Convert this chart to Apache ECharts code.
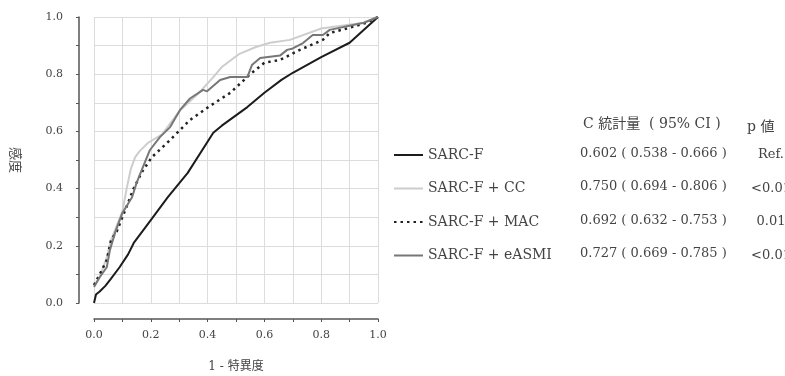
<!DOCTYPE html>
<html>
<head>
<meta charset="utf-8">
<script src="https://cdn.jsdelivr.net/npm/echarts@6/dist/echarts.min.js"></script>
<style>
  html, body { margin: 0; padding: 0; background: #fff; }
  #myCharts { width: 785px; height: 376px; }
</style>
</head>
<body>
<div id="myCharts"></div>
<script>
// ROC curves, [1 - specificity, sensitivity]
let sarcF = [
  [0, 0], [0.007, 0.03], [0.02, 0.04], [0.04, 0.06], [0.06, 0.085], [0.09, 0.125],
  [0.12, 0.17], [0.14, 0.21], [0.2, 0.29], [0.26, 0.37], [0.33, 0.455], [0.42, 0.595],
  [0.45, 0.62], [0.54, 0.685], [0.6, 0.735], [0.66, 0.78], [0.7, 0.805], [0.8, 0.86],
  [0.9, 0.91], [1, 1]
];
let sarcFCC = [
  [0, 0.06], [0.02, 0.09], [0.045, 0.16], [0.06, 0.22], [0.1, 0.32], [0.115, 0.4],
  [0.13, 0.47], [0.145, 0.51], [0.16, 0.53], [0.19, 0.56], [0.24, 0.59], [0.3, 0.67],
  [0.37, 0.735], [0.42, 0.79], [0.45, 0.825], [0.51, 0.87], [0.57, 0.895], [0.62, 0.91],
  [0.69, 0.92], [0.8, 0.96], [0.95, 0.98], [1, 1]
];
let sarcFMAC = [
  [0, 0.063], [0.02, 0.1], [0.045, 0.15], [0.06, 0.22], [0.08, 0.25], [0.1, 0.3],
  [0.12, 0.35], [0.137, 0.395], [0.17, 0.46], [0.204, 0.51], [0.268, 0.57], [0.303, 0.605],
  [0.338, 0.64], [0.41, 0.69], [0.48, 0.735], [0.55, 0.8], [0.6, 0.84], [0.655, 0.85],
  [0.725, 0.885], [0.806, 0.92], [0.83, 0.944], [0.89, 0.96], [0.96, 0.98], [1, 1]
];
let sarcFeASMI = [
  [0, 0.056], [0.02, 0.09], [0.045, 0.125], [0.056, 0.185], [0.074, 0.245], [0.1, 0.315],
  [0.134, 0.37], [0.15, 0.42], [0.17, 0.47], [0.197, 0.535], [0.232, 0.58], [0.268, 0.615],
  [0.303, 0.675], [0.338, 0.715], [0.384, 0.745], [0.398, 0.74], [0.444, 0.78], [0.48, 0.79],
  [0.54, 0.79], [0.556, 0.832], [0.585, 0.857], [0.655, 0.865], [0.68, 0.885], [0.7, 0.89],
  [0.736, 0.909], [0.77, 0.937], [0.806, 0.937], [0.83, 0.955], [0.95, 0.98], [1, 1]
];

let seriesNames = ["SARC-F", "SARC-F + CC", "SARC-F + MAC", "SARC-F + eASMI"];
let cStats = [
  "0.602 ( 0.538 - 0.666 )",
  "0.750 ( 0.694 - 0.806 )",
  "0.692 ( 0.632 - 0.753 )",
  "0.727 ( 0.669 - 0.785 )"
];
let pValues = ["Ref.", "<0.01", "0.01", "<0.01"];

const serif = '"DejaVu Serif", "Liberation Serif", "Noto Sans CJK JP", serif';
const textColor = "#444";

let rowTop = 155;
let rowGap = 33.5;

let tableText = [
  {
    type: "text", left: 583, top: 117,
    style: { text: "C 統計量  ( 95% CI )", font: "14px " + serif, fill: textColor }
  },
  {
    type: "text", left: 747, top: 120,
    style: { text: "p 値", font: "14px " + serif, fill: textColor }
  }
];
cStats.forEach(function (s, i) {
  tableText.push({
    type: "text", left: 580, top: rowTop + i * rowGap - 8,
    style: { text: s, font: "13px " + serif, fill: textColor }
  });
  tableText.push({
    type: "text", x: 771, y: rowTop + i * rowGap,
    style: {
      text: pValues[i], font: "13px " + serif, fill: textColor,
      align: "center", verticalAlign: "middle"
    }
  });
});

let lineStyles = [
  { color: "#1c1c1c", width: 2, type: "solid" },
  { color: "#cdcdcd", width: 2, type: "solid" },
  { color: "#222", width: 2.5, type: [2.5, 4] },
  { color: "#777", width: 2, type: "solid" }
];
let curves = [sarcF, sarcFCC, sarcFMAC, sarcFeASMI];

let option = {
  animation: false,
  backgroundColor: "#fff",
  grid: { left: 94, right: 407, top: 17, bottom: 73, outerBoundsMode: "none" },
  legend: {
    orient: "vertical",
    left: 393,
    top: rowTop - 7,
    padding: 0,
    itemWidth: 29,
    itemHeight: 14,
    itemGap: rowGap - 14,
    itemStyle: { opacity: 0 },
    data: seriesNames,
    textStyle: { fontFamily: serif, fontSize: 14, color: textColor }
  },
  xAxis: {
    type: "value",
    min: 0,
    max: 1,
    interval: 0.1,
    offset: 16,
    name: "1 - 特異度",
    nameLocation: "middle",
    nameGap: 42,
    nameTextStyle: { fontFamily: serif, fontSize: 12, color: textColor },
    axisLine: { onZero: false, lineStyle: { color: "#555", width: 1.5 } },
    axisTick: { length: 3, lineStyle: { color: "#555" } },
    axisLabel: {
      margin: 11,
      fontFamily: serif,
      fontSize: 11,
      color: textColor,
      formatter: function (v) {
        return Math.round(v * 10) % 2 === 0 ? v.toFixed(1) : "";
      }
    },
    splitLine: { show: true, lineStyle: { color: "#dcdcdc", width: 1 } }
  },
  yAxis: {
    type: "value",
    min: 0,
    max: 1,
    interval: 0.1,
    offset: 15,
    name: "感度",
    nameLocation: "middle",
    nameGap: 58,
    nameRotate: -90,
    nameTextStyle: { fontFamily: serif, fontSize: 13, color: textColor },
    axisLine: { show: true, onZero: false, lineStyle: { color: "#555", width: 1.5 } },
    axisTick: { show: true, length: 3, lineStyle: { color: "#555" } },
    axisLabel: {
      margin: 16,
      fontFamily: serif,
      fontSize: 11,
      color: textColor,
      formatter: function (v) {
        return Math.round(v * 10) % 2 === 0 ? v.toFixed(1) : "";
      }
    },
    splitLine: { show: true, lineStyle: { color: "#dcdcdc", width: 1 } }
  },
  graphic: tableText,
  series: seriesNames.map(function (name, i) {
    return {
      name: name,
      type: "line",
      symbol: "none",
      data: curves[i],
      lineStyle: lineStyles[i],
      itemStyle: { color: lineStyles[i].color },
      z: i === 1 ? 1 : 2 + i
    };
  })
};

let myChart = echarts.init(document.getElementById("myCharts"));
myChart.setOption(option);
</script>
</body>
</html>
